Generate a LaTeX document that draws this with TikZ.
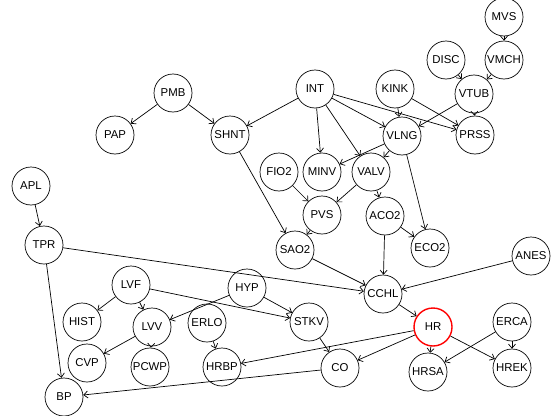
\documentclass[tikz,border=0pt]{standalone}
\usepackage{fontspec}
\setmainfont{Liberation Sans}
\usetikzlibrary{arrows.meta}
\begin{document}
\begin{tikzpicture}[x=1pt,y=-1pt,
  vnode/.style={circle,draw,line width=0.7pt,minimum size=38pt,inner sep=0pt,font=\fontsize{11.4}{13}\selectfont},
  hot/.style={vnode,draw=red,line width=1.4pt},
  edge/.style={line width=0.7pt,-{Straight Barb[length=4pt,width=7pt]}}]
\useasboundingbox (0,0) rectangle (554,415);
\node[vnode] (MVS) at (504,17) {MVS};
\node[vnode] (VMCH) at (504,60) {VMCH};
\node[vnode] (DISC) at (446,60) {DISC};
\node[vnode] (VTUB) at (474,94) {VTUB};
\node[vnode] (KINK) at (395,89) {KINK};
\node[vnode] (INT) at (315,89) {INT};
\node[vnode] (PMB) at (173,93) {PMB};
\node[vnode] (PAP) at (115,135) {PAP};
\node[vnode] (SHNT) at (230,135) {SHNT};
\node[vnode] (VLNG) at (402,136) {VLNG};
\node[vnode] (PRSS) at (475,135) {PRSS};
\node[vnode] (FIO2) at (279,172) {FIO2};
\node[vnode] (MINV) at (322,172) {MINV};
\node[vnode] (VALV) at (371,172) {VALV};
\node[vnode] (APL) at (31,186) {APL};
\node[vnode] (PVS) at (322,215) {PVS};
\node[vnode] (ACO2) at (385,216) {ACO2};
\node[vnode] (SAO2) at (295,250) {SAO2};
\node[vnode] (ECO2) at (430,248) {ECO2};
\node[vnode] (TPR) at (44,245) {TPR};
\node[vnode] (ANES) at (531,256) {ANES};
\node[vnode] (CCHL) at (383,294) {CCHL};
\node[vnode] (LVF) at (131,285) {LVF};
\node[vnode] (HYP) at (247,288) {HYP};
\node[vnode] (HIST) at (82,322) {HIST};
\node[vnode] (LVV) at (152,327) {LVV};
\node[vnode] (ERLO) at (207,323) {ERLO};
\node[vnode] (STKV) at (309,322) {STKV};
\node[hot] (HR) at (433,327) {HR};
\node[vnode] (ERCA) at (512,322) {ERCA};
\node[vnode] (CVP) at (87,363) {CVP};
\node[vnode] (PCWP) at (150,367) {PCWP};
\node[vnode] (HRBP) at (222,367) {HRBP};
\node[vnode] (CO) at (340,368) {CO};
\node[vnode] (HRSA) at (428,372) {HRSA};
\node[vnode] (HREK) at (512,368) {HREK};
\node[vnode] (BP) at (64,397) {BP};
\foreach \a/\b in {MVS/VMCH,DISC/VTUB,VMCH/VTUB,VTUB/PRSS,VTUB/VLNG,KINK/VLNG,KINK/PRSS,
  INT/VLNG,INT/PRSS,INT/MINV,INT/VALV,INT/SHNT,PMB/PAP,PMB/SHNT,VLNG/MINV,VLNG/VALV,VLNG/ECO2,
  SHNT/SAO2,FIO2/PVS,VALV/PVS,VALV/ACO2,PVS/SAO2,ACO2/ECO2,ACO2/CCHL,SAO2/CCHL,TPR/CCHL,
  ANES/CCHL,APL/TPR,TPR/BP,CCHL/HR,LVF/HIST,LVF/LVV,LVF/STKV,HYP/LVV,HYP/STKV,LVV/CVP,LVV/PCWP,
  ERLO/HRBP,STKV/CO,HR/HRBP,HR/CO,HR/HRSA,HR/HREK,ERCA/HRSA,ERCA/HREK,CO/BP}
  \draw[edge] (\a) -- (\b);
\end{tikzpicture}
\end{document}
